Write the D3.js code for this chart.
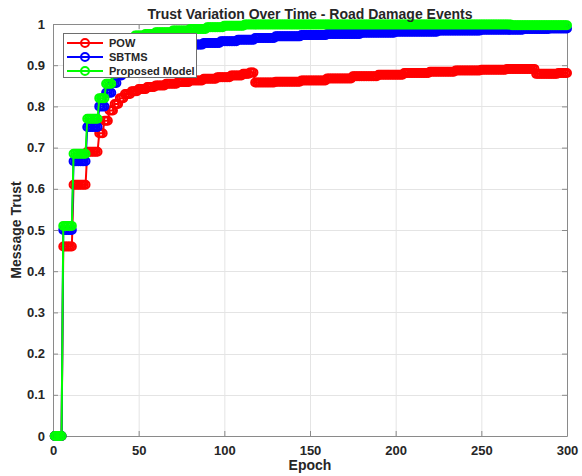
<!DOCTYPE html>
<html>
<head>
<meta charset="utf-8">
<script src="https://cdn.jsdelivr.net/npm/d3@7/dist/d3.min.js"></script>
<style>
  html, body { margin: 0; padding: 0; background: #fff; }
  svg { display: block; font-family: "Liberation Sans", Arial, Helvetica, sans-serif; }
  .tick text { font-weight: bold; fill: #262626; }
</style>
</head>
<body>
<svg id="chart" width="582" height="476"></svg>
<script>
// Epoch range and axis ticks
const epochFirst = 1;
const epochLast = 300;
const xTicks = [0, 50, 100, 150, 200, 250, 300];
const yTicks = [0, 0.1, 0.2, 0.3, 0.4, 0.5, 0.6, 0.7, 0.8, 0.9, 1];

// Trust per series as [epoch where value starts, value] — held until the next entry
const powSteps = [
  [1, 0], [6, 0.46], [12, 0.61], [20, 0.69], [27, 0.735], [30, 0.765], [33, 0.79],
  [36, 0.806], [39, 0.82], [42, 0.83], [46, 0.837], [50, 0.842], [55, 0.847],
  [60, 0.851], [66, 0.855], [73, 0.859], [80, 0.863], [88, 0.867], [96, 0.871],
  [104, 0.875], [111, 0.879], [115, 0.882], [118, 0.858], [130, 0.86], [145, 0.863],
  [160, 0.868], [175, 0.873], [190, 0.877], [205, 0.881], [220, 0.884], [235, 0.887],
  [250, 0.889], [265, 0.891], [282, 0.879], [295, 0.881]
];
const sbtmsSteps = [
  [1, 0], [6, 0.5], [12, 0.667], [20, 0.75], [27, 0.8], [31, 0.833], [35, 0.857],
  [38, 0.875], [41, 0.89], [44, 0.905], [48, 0.917], [52, 0.925], [57, 0.932],
  [63, 0.938], [70, 0.945], [78, 0.95], [88, 0.954], [98, 0.958], [108, 0.962],
  [118, 0.966], [130, 0.97], [145, 0.973], [160, 0.976], [180, 0.979], [200, 0.981],
  [225, 0.984], [250, 0.986], [275, 0.988], [290, 0.989]
];
const proposedSteps = [
  [1, 0], [6, 0.51], [12, 0.685], [20, 0.77], [27, 0.82], [31, 0.855], [35, 0.88],
  [38, 0.92], [41, 0.95], [44, 0.965], [48, 0.972], [54, 0.976], [60, 0.98],
  [70, 0.984], [80, 0.988], [90, 0.992], [100, 0.996], [112, 0.999], [268, 0.997]
];

const seriesNames = ["POW", "SBTMS", "Proposed Model"];
const seriesColors = ["#ff0000", "#0000ff", "#00ff00"];
const seriesSteps = [powSteps, sbtmsSteps, proposedSteps];

// Expand held values to one point per epoch
function expand(steps) {
  const pts = [];
  let k = 0;
  for (let e = epochFirst; e <= epochLast; e++) {
    while (k + 1 < steps.length && steps[k + 1][0] <= e) k++;
    pts.push({ epoch: e, trust: steps[k][1] });
  }
  return pts;
}

const svg = d3.select("#chart");
const plotL = 53, plotR = 567, plotT = 24, plotB = 436;
const x = d3.scaleLinear().domain([0, 300]).range([plotL, plotR]);
const y = d3.scaleLinear().domain([0, 1]).range([plotB, plotT]);

const axisColor = "#8a8a8a";
const markerR = 4;
const strokeW = 2;

// Grid
const grid = svg.append("g");
grid.selectAll("line.gx").data(xTicks).join("line")
  .attr("x1", d => x(d) + 0.5).attr("x2", d => x(d) + 0.5)
  .attr("y1", plotT).attr("y2", plotB)
  .attr("stroke", "#e4e4e4").attr("stroke-width", 1);
grid.selectAll("line.gy").data(yTicks).join("line")
  .attr("x1", plotL).attr("x2", plotR)
  .attr("y1", d => Math.round(y(d)) + 0.5).attr("y2", d => Math.round(y(d)) + 0.5)
  .attr("stroke", "#e4e4e4").attr("stroke-width", 1);

// Axes on all four sides, ticks pointing inward
function styleAxis(g) {
  g.selectAll(".domain").attr("stroke", axisColor);
  g.selectAll(".tick line").attr("stroke", axisColor);
  g.selectAll(".tick text").attr("font-size", 13);
}
svg.append("g").attr("transform", `translate(0,${plotB})`)
  .call(d3.axisBottom(x).tickValues(xTicks).tickSizeInner(-5).tickSizeOuter(0)
    .tickPadding(10).tickFormat(d => String(d)))
  .call(styleAxis);
svg.append("g").attr("transform", `translate(0,${plotT})`)
  .call(d3.axisTop(x).tickValues(xTicks).tickSizeInner(-5).tickSizeOuter(0).tickFormat(""))
  .call(styleAxis);
svg.append("g").attr("transform", `translate(${plotL},0)`)
  .call(d3.axisLeft(y).tickValues(yTicks).tickSizeInner(-5).tickSizeOuter(0)
    .tickPadding(8).tickFormat(d => String(d)))
  .call(styleAxis);
svg.append("g").attr("transform", `translate(${plotR},0)`)
  .call(d3.axisRight(y).tickValues(yTicks).tickSizeInner(-5).tickSizeOuter(0).tickFormat(""))
  .call(styleAxis);

// Series: line plus open circle marker at every epoch
const line = d3.line().x(d => x(d.epoch)).y(d => y(d.trust));
seriesSteps.forEach((steps, i) => {
  const pts = expand(steps);
  const g = svg.append("g");
  g.append("path").datum(pts).attr("d", line)
    .attr("fill", "none").attr("stroke", seriesColors[i]).attr("stroke-width", strokeW);
  g.selectAll("circle").data(pts).join("circle")
    .attr("cx", d => x(d.epoch)).attr("cy", d => y(d.trust)).attr("r", markerR)
    .attr("fill", "none").attr("stroke", seriesColors[i]).attr("stroke-width", strokeW);
});

// Title and axis labels
svg.append("text").attr("x", 310).attr("y", 19).attr("text-anchor", "middle")
  .attr("font-size", 14).attr("font-weight", "bold").attr("fill", "#262626")
  .text("Trust Variation Over Time - Road Damage Events");
svg.append("text").attr("x", 310).attr("y", 470).attr("text-anchor", "middle")
  .attr("font-size", 14).attr("font-weight", "bold").attr("fill", "#262626")
  .text("Epoch");
svg.append("text").attr("transform", "translate(21,230) rotate(-90)")
  .attr("text-anchor", "middle")
  .attr("font-size", 14).attr("font-weight", "bold").attr("fill", "#262626")
  .text("Message Trust");

// Legend
const lg = svg.append("g");
lg.append("rect").attr("x", 63.5).attr("y", 33.5).attr("width", 133).attr("height", 44)
  .attr("fill", "#fff").attr("stroke", "#6e6e6e").attr("stroke-width", 1);
seriesNames.forEach((name, i) => {
  const cy = 43 + i * 14;
  lg.append("line").attr("x1", 67).attr("x2", 103).attr("y1", cy).attr("y2", cy)
    .attr("stroke", seriesColors[i]).attr("stroke-width", strokeW);
  lg.append("circle").attr("cx", 85).attr("cy", cy).attr("r", markerR)
    .attr("fill", "none").attr("stroke", seriesColors[i]).attr("stroke-width", strokeW);
  lg.append("text").attr("x", 109).attr("y", cy + 4)
    .attr("font-size", 11).attr("font-weight", "bold").attr("fill", "#262626")
    .text(name);
});
</script>
</body>
</html>
